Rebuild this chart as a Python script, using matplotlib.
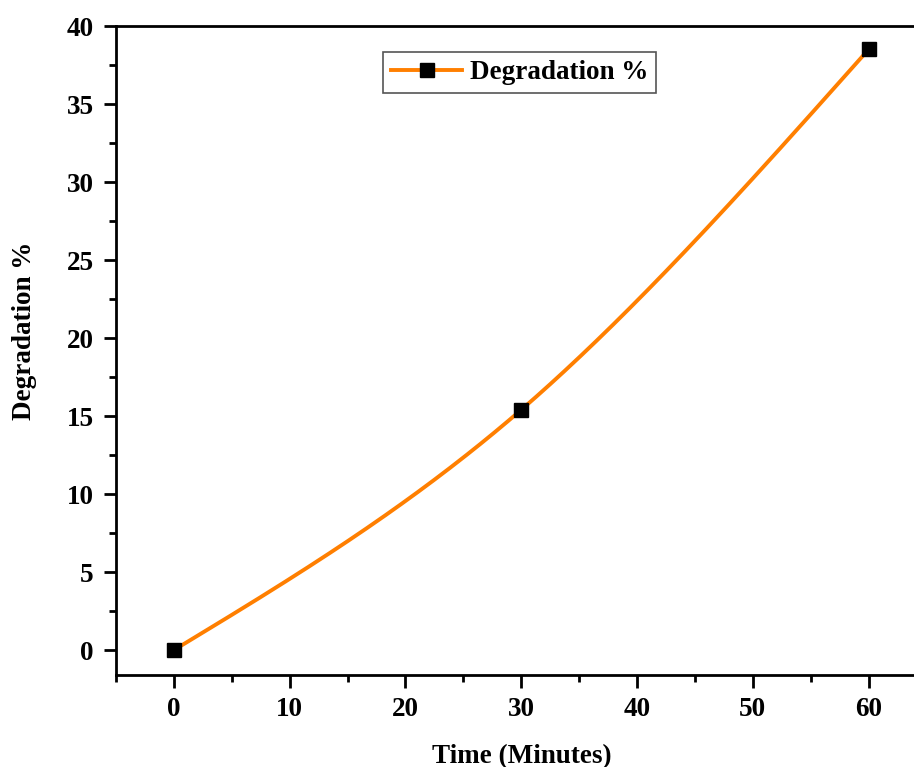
import numpy as np
import matplotlib
matplotlib.use("Agg")
import matplotlib.pyplot as plt
from matplotlib.ticker import MultipleLocator

time_min = [0, 30, 60]
degradation = [0.0, 15.4, 38.5]
series_label = "Degradation %"
x_label = "Time (Minutes)"
y_label = "Degradation %"


def natural_spline(xs, ys, n=300):
    xs = np.asarray(xs, float)
    ys = np.asarray(ys, float)
    k = len(xs)
    h = np.diff(xs)
    A = np.zeros((k, k))
    r = np.zeros(k)
    A[0, 0] = 1
    A[-1, -1] = 1
    for i in range(1, k - 1):
        A[i, i - 1] = h[i - 1]
        A[i, i] = 2 * (h[i - 1] + h[i])
        A[i, i + 1] = h[i]
        r[i] = 6 * ((ys[i + 1] - ys[i]) / h[i] - (ys[i] - ys[i - 1]) / h[i - 1])
    M = np.linalg.solve(A, r)
    xx = np.linspace(xs[0], xs[-1], n)
    yy = np.empty_like(xx)
    for j, x in enumerate(xx):
        i = min(np.searchsorted(xs, x, side="right") - 1, k - 2)
        hi = h[i]
        a = xs[i + 1] - x
        b = x - xs[i]
        yy[j] = (M[i] * a**3 / (6 * hi) + M[i + 1] * b**3 / (6 * hi)
                 + (ys[i] / hi - M[i] * hi / 6) * a
                 + (ys[i + 1] / hi - M[i + 1] * hi / 6) * b)
    return xx, yy


plt.rcParams["font.family"] = ["Liberation Serif", "DejaVu Serif"]
plt.rcParams["font.weight"] = "bold"

FS = 19.5

fig = plt.figure(figsize=(9.14, 7.67), dpi=100)
ax = fig.add_axes([0.1269, 0.1199, 0.8741, 0.8462])

color = "#FF7F00"
sx, sy = natural_spline(time_min, degradation)
ax.plot(sx, sy, color=color, lw=2.8, zorder=2)
ax.plot(time_min, degradation, ls="none", marker="s", ms=10, color="black", zorder=3)

# legend proxy (line + marker)
ax.plot([], [], color=color, lw=2.8, marker="s", ms=10, mfc="black", mec="black",
        label=series_label)
leg = ax.legend(loc="upper left", bbox_to_anchor=(0.3346, 0.96), frameon=True,
                fancybox=False, edgecolor="#555555", framealpha=1,
                prop={"family": "Liberation Serif", "weight": "bold", "size": FS},
                handlelength=2.6, handletextpad=0.3, borderpad=0.3, borderaxespad=0)
leg.get_frame().set_linewidth(1.2)

ax.set_xlim(-5, 64)
ax.set_ylim(-1.6, 40)
ax.xaxis.set_major_locator(MultipleLocator(10))
ax.xaxis.set_minor_locator(MultipleLocator(5))
ax.yaxis.set_major_locator(MultipleLocator(5))
ax.yaxis.set_minor_locator(MultipleLocator(2.5))
ax.tick_params(which="major", direction="out", length=9, width=2, labelsize=FS, pad=7)
ax.tick_params(which="minor", direction="out", length=5, width=2)
ax.tick_params(top=False, right=False)
for lab in ax.get_xticklabels() + ax.get_yticklabels():
    lab.set_fontweight("bold")

for s in ["left", "bottom", "top"]:
    ax.spines[s].set_linewidth(2)
ax.spines["right"].set_visible(False)

ax.set_xlabel(x_label, fontsize=FS, fontweight="bold", va="center")
ax.set_ylabel(y_label, fontsize=FS, fontweight="bold", va="center")
ax.xaxis.set_label_coords(0.5075, -0.125)
ax.yaxis.set_label_coords(-0.114, 0.53)

fig.savefig("out.png", dpi=100)
